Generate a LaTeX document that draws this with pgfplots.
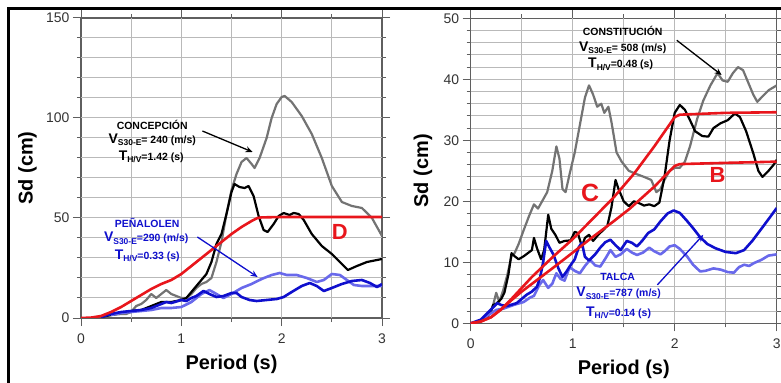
\documentclass[border=0pt]{standalone}
\usepackage{fontspec}
\setmainfont{Liberation Sans}
\usepackage{pgfplots}
\pgfplotsset{compat=1.18}
\usetikzlibrary{arrows.meta}
\definecolor{cgray}{RGB}{115,115,115}
\definecolor{dblue}{RGB}{15,15,205}
\definecolor{lblue}{RGB}{105,105,235}
\definecolor{cred}{RGB}{232,22,28}
\definecolor{gridc}{RGB}{185,185,185}
\definecolor{axc}{RGB}{95,95,95}
\newcommand{\Vs}[1]{{\fontsize{14}{14}\selectfont V}\raisebox{-2.5bp}{\fontsize{8.5}{8.5}\selectfont S30-E}#1}
\newcommand{\Th}[1]{{\fontsize{14}{14}\selectfont T}\raisebox{-2.5bp}{\fontsize{8.5}{8.5}\selectfont H/V}#1}
\pgfplotsset{
  myax/.style={
    scale only axis,
    axis line style={axc, line width=1.1bp},
    tick style={axc, line width=1bp},
    major tick length=8bp, minor tick length=4bp,
    tick align=outside,
    xmin=0, xmax=3, xtick={0,1,2,3}, minor xtick={0.5,1.5,2.5},
    ymin=0,
    /pgf/number format/assume math mode=true,
    ticklabel style={font=\fontsize{14}{16}\selectfont, text=black!80},
    xticklabel style={yshift=-4bp},
    label style={font=\fontsize{20}{24}\selectfont\bfseries},
    xlabel={Period (s)}, ylabel={Sd (cm)},
    every axis plot/.append style={line join=round, no markers},
  },
}
\begin{document}
\begin{tikzpicture}
\useasboundingbox (0,0) rectangle (781bp,383bp);
\draw[line width=2.2bp] (8.5bp,0) -- (8.5bp,374.5bp) -- (781bp,374.5bp);
% ---------------- left panel
\begin{axis}[myax, at={(81bp,65bp)}, anchor=south west,
  width=301bp, height=300bp, ymax=150, ytick={0,50,100,150},
  minor ytick={10,20,30,40,60,70,80,90,110,120,130,140},
  xlabel style={at={(axis description cs:0.5,-0.155)}, anchor=center},
  ylabel style={at={(axis description cs:-0.178,0.5)}, anchor=center}]
\draw[draw=gridc, line width=1bp]
  (axis cs:0.5,0) -- (axis cs:0.5,150) (axis cs:1,0) -- (axis cs:1,150)
  (axis cs:1.5,0) -- (axis cs:1.5,150) (axis cs:2,0) -- (axis cs:2,150)
  (axis cs:2.5,0) -- (axis cs:2.5,150)
  (axis cs:0,10) -- (axis cs:3,10) (axis cs:0,20) -- (axis cs:3,20)
  (axis cs:0,30) -- (axis cs:3,30) (axis cs:0,40) -- (axis cs:3,40)
  (axis cs:0,50) -- (axis cs:3,50) (axis cs:0,60) -- (axis cs:3,60)
  (axis cs:0,70) -- (axis cs:3,70) (axis cs:0,80) -- (axis cs:3,80)
  (axis cs:0,90) -- (axis cs:3,90) (axis cs:0,100) -- (axis cs:3,100)
  (axis cs:0,110) -- (axis cs:3,110) (axis cs:0,120) -- (axis cs:3,120)
  (axis cs:0,130) -- (axis cs:3,130) (axis cs:0,140) -- (axis cs:3,140);
\addplot[cgray, line width=2.2bp] coordinates {(0.2,0.5)(0.3,1.5)(0.4,2)(0.45,2)(0.5,3)(0.55,6)(0.6,7)(0.65,9)(0.7,12)(0.75,10)(0.8,12)(0.85,14)(0.9,12)(0.95,11)(1.0,10)(1.05,10)(1.1,12)(1.15,15)(1.2,17)(1.25,18)(1.3,20)(1.35,28)(1.4,38)(1.45,52)(1.5,64)(1.55,72)(1.6,78)(1.65,80)(1.7,77)(1.73,75)(1.78,80)(1.85,90)(1.9,100)(1.95,107)(2.0,110.5)(2.03,111)(2.1,108)(2.2,101)(2.3,92)(2.4,80)(2.5,66)(2.6,58)(2.7,56)(2.8,55)(2.9,50)(3.0,41)};
\addplot[black, line width=2.2bp] coordinates {(0.2,0.5)(0.3,1.5)(0.4,2.5)(0.5,3.5)(0.6,4)(0.7,6)(0.8,8)(0.9,8)(1.0,9)(1.05,10)(1.1,13)(1.15,16)(1.2,19)(1.25,22)(1.3,28)(1.35,37)(1.4,42)(1.45,52)(1.5,63)(1.53,67)(1.58,65.5)(1.63,65)(1.67,66)(1.72,61)(1.77,51)(1.82,44)(1.86,43)(1.92,47)(1.97,51)(2.02,52.5)(2.08,51.5)(2.12,52.5)(2.17,52)(2.22,49)(2.3,42)(2.4,36)(2.5,32)(2.6,27)(2.66,24)(2.75,26)(2.85,28)(3.0,29.5)};
\addplot[lblue, line width=2.6bp] coordinates {(0.3,1.5)(0.4,2.5)(0.5,3)(0.6,3.5)(0.7,4)(0.8,5)(0.9,5)(1.0,5.5)(1.1,8)(1.2,12)(1.28,14)(1.35,12)(1.42,10)(1.5,12)(1.6,15)(1.7,17)(1.8,19.5)(1.9,21.5)(1.98,22.5)(2.05,21.5)(2.15,21.5)(2.25,20)(2.35,18)(2.42,19)(2.5,22)(2.58,21.5)(2.65,19)(2.72,16.5)(2.8,16)(2.9,16)(3.0,16)};
\addplot[dblue, line width=2.6bp] coordinates {(0.2,0.5)(0.3,2)(0.4,3)(0.5,3.5)(0.6,4)(0.7,5)(0.8,7)(0.85,8)(0.9,7.5)(1.0,9)(1.05,8.5)(1.1,10)(1.15,11)(1.22,13.5)(1.28,12)(1.35,10.5)(1.42,11)(1.5,12.5)(1.55,12.5)(1.6,10.5)(1.68,9)(1.75,8.5)(1.85,9)(1.95,9.5)(2.02,10.5)(2.1,13)(2.2,16)(2.28,17.5)(2.35,16)(2.42,13.5)(2.5,15)(2.6,17)(2.7,18.5)(2.8,19)(2.88,17.5)(2.95,15.5)(3.0,17)};
\addplot[cred, line width=2.6bp] coordinates {(0,0)(0.1,0.2)(0.2,1)(0.3,3)(0.4,5.5)(0.5,8.5)(0.6,11.5)(0.7,14.5)(0.8,17)(0.9,19)(1.0,22)(1.1,26)(1.2,30)(1.3,34)(1.4,38)(1.5,42)(1.6,45.5)(1.7,48.5)(1.76,50)(1.8,50.3)(2.0,50.5)(3.0,50.5)};
\node[font=\fontsize{10.5}{12}\selectfont\bfseries] at (axis cs:0.71,96.5) {CONCEPCIÓN};
\node[font=\fontsize{10.5}{12}\selectfont\bfseries] at (axis cs:0.71,89) {\Vs{= 240 (m/s)}};
\node[font=\fontsize{10.5}{12}\selectfont\bfseries] at (axis cs:0.70,80.5) {\Th{=1.42 (s)}};
\draw[black, line width=1.3bp, -{Stealth[length=7bp,width=6bp]}] (axis cs:1.21,93.5) -- (axis cs:1.71,83);
\node[dblue, font=\fontsize{10.5}{12}\selectfont\bfseries] at (axis cs:0.66,47.5) {PEÑALOLEN};
\node[dblue, font=\fontsize{10.5}{12}\selectfont\bfseries] at (axis cs:0.65,40) {\Vs{=290 (m/s)}};
\node[dblue, font=\fontsize{10.5}{12}\selectfont\bfseries] at (axis cs:0.66,31) {\Th{=0.33 (s)}};
\draw[dblue, line width=1.3bp, -{Stealth[length=7bp,width=6bp]}] (axis cs:1.16,40.5) -- (axis cs:1.76,20.5);
\node[cred, font=\fontsize{22}{24}\selectfont\bfseries] at (axis cs:2.58,43) {D};
\end{axis}
% ---------------- right panel
\begin{axis}[myax, at={(470.7bp,59.7bp)}, anchor=south west,
  width=306bp, height=305bp, ymax=50, ytick={0,10,20,30,40,50},
  minor ytick={2,4,6,8,12,14,16,18,22,24,26,28,32,34,36,38,42,44,46,48},
  xlabel style={at={(axis description cs:0.5,-0.152)}, anchor=center},
  ylabel style={at={(axis description cs:-0.156,0.5)}, anchor=center}]
\draw[draw=gridc, line width=1bp]
  (axis cs:0.5,0) -- (axis cs:0.5,50) (axis cs:1,0) -- (axis cs:1,50)
  (axis cs:1.5,0) -- (axis cs:1.5,50) (axis cs:2,0) -- (axis cs:2,50)
  (axis cs:2.5,0) -- (axis cs:2.5,50)
  (axis cs:0,2) -- (axis cs:3,2) (axis cs:0,4) -- (axis cs:3,4)
  (axis cs:0,6) -- (axis cs:3,6) (axis cs:0,8) -- (axis cs:3,8)
  (axis cs:0,10) -- (axis cs:3,10) (axis cs:0,12) -- (axis cs:3,12)
  (axis cs:0,14) -- (axis cs:3,14) (axis cs:0,16) -- (axis cs:3,16)
  (axis cs:0,18) -- (axis cs:3,18) (axis cs:0,20) -- (axis cs:3,20)
  (axis cs:0,22) -- (axis cs:3,22) (axis cs:0,24) -- (axis cs:3,24)
  (axis cs:0,26) -- (axis cs:3,26) (axis cs:0,28) -- (axis cs:3,28)
  (axis cs:0,30) -- (axis cs:3,30) (axis cs:0,32) -- (axis cs:3,32)
  (axis cs:0,34) -- (axis cs:3,34) (axis cs:0,36) -- (axis cs:3,36)
  (axis cs:0,38) -- (axis cs:3,38) (axis cs:0,40) -- (axis cs:3,40)
  (axis cs:0,42) -- (axis cs:3,42) (axis cs:0,44) -- (axis cs:3,44)
  (axis cs:0,46) -- (axis cs:3,46) (axis cs:0,48) -- (axis cs:3,48);
\addplot[cgray, line width=2.2bp] coordinates {(0.15,0.8)(0.2,2)(0.22,3)(0.25,5)(0.28,3.5)(0.32,5.5)(0.36,8)(0.4,11)(0.43,11.5)(0.47,13)(0.52,15.3)(0.57,17.5)(0.62,19.5)(0.66,18.8)(0.7,20)(0.75,21.5)(0.8,25)(0.84,29)(0.87,27)(0.9,22)(0.93,21.5)(0.97,24.5)(1.02,28)(1.07,32.5)(1.12,37)(1.16,39)(1.2,37.5)(1.24,35.5)(1.28,36)(1.31,34.5)(1.35,35.5)(1.38,33)(1.43,28)(1.48,26.5)(1.55,25)(1.62,24.5)(1.7,24)(1.77,23.5)(1.82,21.5)(1.86,22)(1.9,23.5)(1.95,25)(2.0,25.5)(2.05,25.5)(2.1,26.5)(2.15,29)(2.22,33.5)(2.28,36.5)(2.35,39)(2.42,41)(2.47,39.8)(2.52,39.6)(2.57,41)(2.62,42)(2.67,41.5)(2.72,39.5)(2.77,37.5)(2.81,36.3)(2.86,37.2)(2.92,38.2)(3.0,39)};
\addplot[black, line width=2.2bp] coordinates {(0.15,0.8)(0.2,2)(0.22,3)(0.25,3.2)(0.3,4)(0.33,5)(0.37,8)(0.4,11.5)(0.43,11)(0.47,10.5)(0.52,11)(0.56,11.5)(0.6,12)(0.62,14)(0.65,12.3)(0.69,10.5)(0.72,12)(0.76,17.8)(0.79,15.5)(0.83,14.5)(0.87,13.2)(0.92,13.5)(0.98,13.6)(1.02,15)(1.05,14.8)(1.09,12.6)(1.12,14)(1.16,14.5)(1.2,13.5)(1.25,14.5)(1.3,15.3)(1.34,16)(1.38,19)(1.42,23.5)(1.45,22)(1.5,20)(1.55,19.2)(1.6,20)(1.65,19.7)(1.7,19.3)(1.75,19.5)(1.8,19.2)(1.85,19.8)(1.9,24)(1.95,30)(2.0,34.5)(2.05,35.8)(2.1,35)(2.15,33.3)(2.2,31.5)(2.27,30.7)(2.33,30.6)(2.38,32)(2.45,32.8)(2.52,33.3)(2.59,34.4)(2.64,33.8)(2.7,31.5)(2.77,27.9)(2.82,25)(2.86,24)(2.92,25)(2.97,26)(3.0,26.8)};
\addplot[lblue, line width=2.6bp] coordinates {(0.1,0.4)(0.16,1.2)(0.25,2.2)(0.32,2.4)(0.42,3.0)(0.52,3.5)(0.58,4.2)(0.62,4.5)(0.67,6.2)(0.71,7.1)(0.76,5.8)(0.8,6.5)(0.84,8.2)(0.88,7.3)(0.92,7.0)(0.97,9.2)(1.02,8.6)(1.07,8.2)(1.12,9.4)(1.17,10.4)(1.22,9.5)(1.27,9.3)(1.32,10.6)(1.37,12)(1.42,10.9)(1.47,11.3)(1.53,12.2)(1.58,11.6)(1.63,11.2)(1.69,11.6)(1.75,12.4)(1.8,11.8)(1.86,11.3)(1.9,11.8)(1.95,12.6)(2.0,12.8)(2.05,12.2)(2.12,11)(2.18,9.6)(2.25,8.5)(2.3,8.6)(2.38,9)(2.45,8.8)(2.52,8.4)(2.58,8.3)(2.63,9.2)(2.68,9.6)(2.73,9.4)(2.78,9.9)(2.85,10.4)(2.92,11.1)(3.0,11.3)};
\addplot[dblue, line width=2.6bp] coordinates {(0,0)(0.1,0.6)(0.16,1.6)(0.22,2.6)(0.26,3.3)(0.3,3)(0.35,2.8)(0.45,3.3)(0.55,4.7)(0.6,5.2)(0.65,6.0)(0.68,7.5)(0.71,10)(0.74,13.5)(0.77,12.5)(0.81,11.3)(0.86,9)(0.9,7.6)(0.94,8.5)(0.97,9.3)(1.02,10.5)(1.06,12.5)(1.09,13.2)(1.12,10.9)(1.16,10.3)(1.22,11.3)(1.27,12.4)(1.32,13.3)(1.37,13.7)(1.42,12.8)(1.47,12)(1.53,13.5)(1.58,13.2)(1.63,12.6)(1.68,13.5)(1.74,14.8)(1.8,15.4)(1.86,16.7)(1.93,18)(1.99,18.5)(2.05,18.1)(2.12,16.8)(2.18,15.6)(2.25,14.1)(2.32,13)(2.4,12.3)(2.5,11.7)(2.6,11.5)(2.68,12)(2.76,13.5)(2.85,15.5)(2.93,17.3)(3.0,18.9)};
\addplot[cred, line width=2.6bp] coordinates {(0,0)(0.1,0.3)(0.2,1.0)(0.3,2.3)(0.4,4)(0.5,5.8)(0.6,7.6)(0.8,10.8)(1.0,13.8)(1.2,17.2)(1.4,20.6)(1.6,24.5)(1.8,29)(2.0,33.8)(2.05,34.2)(2.5,34.5)(3.0,34.6)};
\addplot[cred, line width=2.6bp] coordinates {(0,0)(0.1,0.3)(0.2,1.0)(0.3,2.3)(0.4,3.8)(0.5,5.2)(0.65,7.1)(0.8,9.0)(0.97,11.2)(1.2,14.2)(1.4,16.7)(1.56,18.8)(1.8,22.4)(2.0,25.8)(2.05,26.1)(2.5,26.3)(3.0,26.5)};
\node[font=\fontsize{10.5}{12}\selectfont\bfseries] at (axis cs:1.49,47.9) {CONSTITUCIÓN};
\node[font=\fontsize{10.5}{12}\selectfont\bfseries] at (axis cs:1.49,45.2) {\Vs{= 508 (m/s)}};
\node[font=\fontsize{10.5}{12}\selectfont\bfseries] at (axis cs:1.47,42.5) {\Th{=0.48 (s)}};
\draw[black, line width=1.3bp, -{Stealth[length=7bp,width=6bp]}] (axis cs:2.02,46.4) -- (axis cs:2.46,40.7);
\node[dblue, font=\fontsize{10.5}{12}\selectfont\bfseries] at (axis cs:1.44,7.6) {TALCA};
\node[dblue, font=\fontsize{10.5}{12}\selectfont\bfseries] at (axis cs:1.45,4.9) {\Vs{=787 (m/s)}};
\node[dblue, font=\fontsize{10.5}{12}\selectfont\bfseries] at (axis cs:1.45,1.7) {\Th{=0.14 (s)}};
\draw[dblue, line width=1.3bp, -{Stealth[length=7bp,width=6bp]}] (axis cs:1.83,6.3) -- (axis cs:2.28,14.5);
\node[cred, font=\fontsize{25}{27}\selectfont\bfseries] at (axis cs:1.17,21.3) {C};
\node[cred, font=\fontsize{22}{24}\selectfont\bfseries] at (axis cs:2.42,24.3) {B};
\end{axis}
\end{tikzpicture}
\end{document}
